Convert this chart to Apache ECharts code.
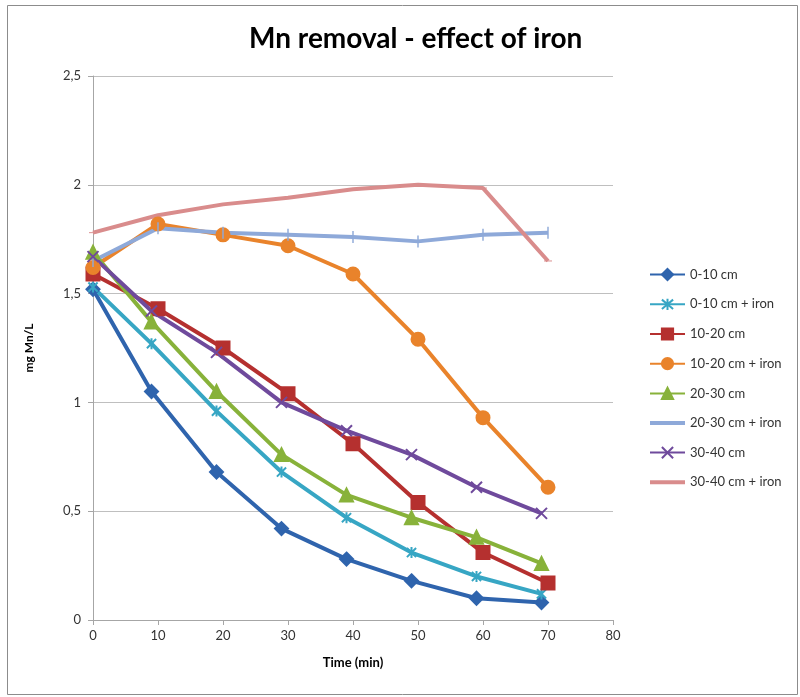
<!DOCTYPE html>
<html>
<head>
<meta charset="utf-8">
<script src="https://cdn.jsdelivr.net/npm/echarts@6/dist/echarts.min.js"></script>
<style>
  html, body { margin: 0; padding: 0; background: #fff; }
  #chart { width: 800px; height: 697px; }
</style>
</head>
<body>
<div id="chart"></div>
<script>
// sampling times (min) - some series were sampled a minute earlier
var timesEarly = [0, 9, 19, 29, 39, 49, 59, 69];
var timesFull = [0, 10, 20, 30, 40, 50, 60, 70];

// mg Mn/L
var mn0010 = [1.52, 1.05, 0.68, 0.42, 0.28, 0.18, 0.10, 0.08];
var mn0010Iron = [1.53, 1.27, 0.96, 0.68, 0.47, 0.31, 0.20, 0.12];
var mn1020 = [1.59, 1.43, 1.25, 1.04, 0.81, 0.54, 0.31, 0.17];
var mn1020Iron = [1.62, 1.82, 1.77, 1.72, 1.59, 1.29, 0.93, 0.61];
var mn2030 = [1.69, 1.37, 1.05, 0.76, 0.575, 0.47, 0.38, 0.26];
var mn2030Iron = [1.65, 1.80, 1.78, 1.77, 1.76, 1.74, 1.77, 1.78];
var mn3040 = [1.67, 1.42, 1.23, 1.00, 0.87, 0.76, 0.61, 0.49];
var mn3040Iron = [1.78, 1.86, 1.91, 1.94, 1.98, 2.00, 1.985, 1.65];

var legendNames = ['0-10 cm', '0-10 cm + iron', '10-20 cm', '10-20 cm + iron',
    '20-30 cm', '20-30 cm + iron', '30-40 cm', '30-40 cm + iron'];

var xTicks = { min: 0, max: 80, interval: 10 };
var yTicks = { min: 0, max: 2.5, interval: 0.5 };

// marker shapes like the Excel ones
var symX = 'path://M0,0L10,10M10,0L0,10';
var symStar = 'path://M0,0L10,10M10,0L0,10M5,-1L5,11';
var symBar = 'path://M4.4,0L5.6,0L5.6,10L4.4,10Z';
var symDash = 'path://M0,4.4L10,4.4L10,5.6L0,5.6Z';
var lineIcon = 'path://M0,0L35,0L35,4L0,4Z';

function pairs(times, vals) {
    return vals.map(function (v, i) { return [times[i], v]; });
}

function mkSeries(name, times, vals, color, symbol, size, border) {
    return {
        name: name,
        type: 'line',
        data: pairs(times, vals),
        symbol: symbol,
        symbolSize: size,
        symbolKeepAspect: true,
        showAllSymbol: true,
        lineStyle: { color: color, width: 4 },
        itemStyle: { color: color, borderColor: color, borderWidth: border },
        emphasis: { disabled: true }
    };
}

// the two thin-marker series only show a plain line in the legend
var legendData = legendNames.map(function (n) {
    return n === '20-30 cm + iron' || n === '30-40 cm + iron' ? { name: n, icon: lineIcon } : n;
});

var chart = echarts.init(document.getElementById('chart'));

var option = {
    animation: false,
    backgroundColor: '#fff',
    textStyle: { fontFamily: 'Lato, "DejaVu Sans", sans-serif' },
    title: {
        text: 'Mn removal - effect of iron',
        left: 244,
        top: 20,
        textStyle: { fontSize: 28, fontWeight: 'bold', color: '#000', fontFamily: 'Lato' }
    },
    graphic: [{
        type: 'rect',
        left: 5,
        top: 3,
        shape: { width: 790, height: 689 },
        style: { fill: 'none', stroke: '#8c8c8c', lineWidth: 1 },
        silent: true,
        z: -1
    }],
    legend: {
        orient: 'vertical',
        left: '644px',
        top: '263px',
        itemWidth: 35,
        itemHeight: 14,
        itemGap: 16.5,
        textStyle: { fontSize: 13, color: '#333' },
        data: legendData
    },
    grid: { left: 93, right: 187, top: 76, bottom: 77 },
    xAxis: {
        type: 'value',
        min: xTicks.min,
        max: xTicks.max,
        interval: xTicks.interval,
        name: 'Time (min)',
        nameLocation: 'middle',
        nameGap: 36,
        nameTextStyle: { fontSize: 13, fontWeight: 'bold', color: '#000' },
        axisLine: { show: true, lineStyle: { color: '#a6a6a6' } },
        axisTick: { show: true, length: 5, lineStyle: { color: '#a6a6a6' } },
        axisLabel: { fontSize: 13, color: '#333', margin: 9 },
        splitLine: { show: false }
    },
    yAxis: {
        type: 'value',
        min: yTicks.min,
        max: yTicks.max,
        interval: yTicks.interval,
        name: 'mg Mn/L',
        nameLocation: 'middle',
        nameGap: 58,
        nameRotate: 90,
        nameTextStyle: { fontSize: 12, fontWeight: 'bold', color: '#000' },
        axisLine: { show: true, lineStyle: { color: '#a6a6a6' } },
        axisTick: { show: true, length: 5, lineStyle: { color: '#a6a6a6' } },
        axisLabel: {
            fontSize: 13,
            color: '#333',
            margin: 12,
            formatter: function (v) { return String(v).replace('.', ','); }
        },
        splitLine: { show: true, lineStyle: { color: '#bfbfbf', width: 1 } }
    },
    series: [
        mkSeries('0-10 cm', timesEarly, mn0010, '#2f64ad', 'diamond', 13, 2),
        mkSeries('0-10 cm + iron', timesEarly, mn0010Iron, '#37a6c4', symStar, 11, 2),
        mkSeries('10-20 cm', timesFull, mn1020, '#b5302f', 'rect', 13, 2),
        mkSeries('10-20 cm + iron', timesFull, mn1020Iron, '#e9832b', 'circle', 13, 2),
        mkSeries('20-30 cm', timesEarly, mn2030, '#88b23a', 'triangle', 13, 2),
        mkSeries('20-30 cm + iron', timesFull, mn2030Iron, '#8ea9d9', symBar, 12, 0),
        mkSeries('30-40 cm', timesEarly, mn3040, '#6f4a9c', symX, 11, 2),
        mkSeries('30-40 cm + iron', timesFull, mn3040Iron, '#d98c8c', symDash, 8, 0)
    ]
};

chart.setOption(option);
</script>
</body>
</html>
